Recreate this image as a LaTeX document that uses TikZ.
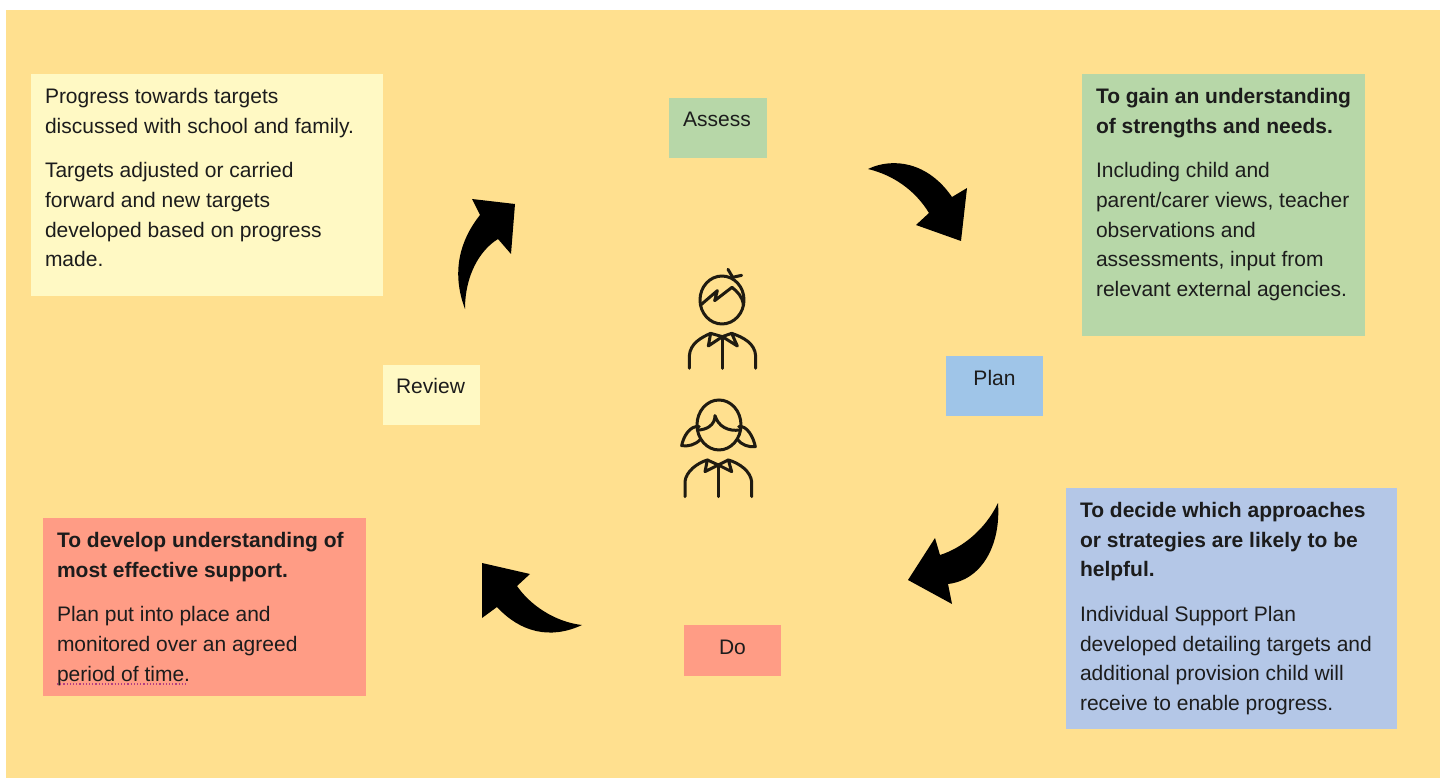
\documentclass[tikz,border=0pt]{standalone}
\usepackage{fontspec}
\setmainfont{Liberation Sans}
\definecolor{bgc}{HTML}{FFE08F}
\definecolor{yel}{HTML}{FFF9C4}
\definecolor{grn}{HTML}{B7D7A8}
\definecolor{blu}{HTML}{9FC5E8}
\definecolor{lblu}{HTML}{B4C7E7}
\definecolor{red1}{HTML}{FF9C85}
\definecolor{ink}{HTML}{1C1C1C}
\newcommand\panel[3]{\parbox[c][#2pt][t]{#1pt}{\fontsize{21pt}{29.6pt}\selectfont\raggedright#3}}
\newcommand\gap{\\[15pt]}
\tikzset{
  x=1pt,y=-1pt,
  panelbox/.style={anchor=north west,inner xsep=14pt,inner ysep=14.5pt,text=ink,outer sep=0pt},
  tag/.style={anchor=north west,minimum width=#1,inner sep=0pt,outer sep=0pt,text=ink,font=\fontsize{21pt}{24pt}\selectfont},
  curvedarrow/.style={fill=black,draw=none},
  pen/.style={draw=black!88!bgc,line width=3pt,line cap=round,line join=round,fill=none,x=0.3333pt,y=-0.3333pt}
}
\begin{document}
\begin{tikzpicture}
\useasboundingbox (0,0) rectangle (1446,778);
\fill[white] (0,0) rectangle (1446,778);
\fill[bgc] (6,10) rectangle (1440,778);

\node[panelbox,fill=yel] (review text) at (31,74) {\panel{324}{193}{Progress towards targets\\discussed with school and family.\gap Targets adjusted or carried\\forward and new targets\\developed based on progress\\made.}};
\node[panelbox,fill=grn] (assess text) at (1082,74) {\panel{255}{233}{\textbf{To gain an understanding\\of strengths and needs.}\gap Including child and\\parent/carer views, teacher\\observations and\\assessments, input from\\relevant external agencies.}};
\node[panelbox,fill=lblu] (plan text) at (1066,488) {\panel{303}{212}{\textbf{To decide which approaches\\or strategies are likely to be\\helpful.}\gap Individual Support Plan\\developed detailing targets and\\additional provision child will\\receive to enable progress.}};
\node[panelbox,fill=red1] (do text) at (43,518) {\panel{295}{149}{\textbf{To develop understanding of\\most effective support.}\gap Plan put into place and\\monitored over an agreed\\period of time.}};

\node[tag=98pt,fill=grn,minimum height=60pt] (assess) at (669,98) {\hspace{-2pt}\raisebox{18pt}{Assess}};
\node[tag=97pt,fill=blu,minimum height=60pt] (plan) at (946,356) {\raisebox{16pt}{Plan}};
\node[tag=97pt,fill=red1,minimum height=51pt] (do) at (684,625) {\raisebox{6pt}{Do}};
\node[tag=97pt,fill=yel,minimum height=60pt] (review) at (383,365) {\hspace{-2pt}\raisebox{19pt}{Review}};

\coordinate (sq1) at (57,684);
\coordinate (sq2) at (186,684);
\draw[draw=violet!60!red1,line width=1.2pt,dotted] (sq1) -- (sq2);

% curved arrows
\fill[curvedarrow] (868,169) .. controls (893,157) and (928,162) .. (952,197) -- (967,188) -- (961,241) -- (916,225) -- (929,213) .. controls (915,190) and (893,175) .. (868,169) -- cycle;
\fill[curvedarrow] (998,503) .. controls (1001,545) and (982,580) .. (948,584) -- (952,604) -- (908,580) -- (935,538) -- (940,555) .. controls (962,548) and (985,530) .. (998,503) -- cycle;
\fill[curvedarrow] (465,309) .. controls (451,272) and (460,240) .. (480,215) -- (472,199) -- (515,204) -- (511,254) -- (498,239) .. controls (480,250) and (465,275) .. (465,309) -- cycle;
\fill[curvedarrow] (582,625) .. controls (550,640) and (520,632) .. (497,607) -- (482,618) -- (482,563) -- (530,574) -- (517,586) .. controls (530,605) and (555,622) .. (582,625) -- cycle;

% boy
\begin{scope}[shift={(660,250)},pen]
\draw (186,150) ellipse[x radius=22pt,y radius=24pt];
\draw (122,165) -- (172,122) -- (164,152) -- (216,112) .. controls (232,125) and (248,140) .. (250,165);
\draw (204,58) -- (218,82) -- (245,76);
\draw (88,355) -- (88,318) .. controls (90,280) and (125,262) .. (152,250) -- (145,288) -- (187,260) -- (232,288) -- (215,250) .. controls (250,262) and (285,280) .. (287,318) -- (287,355);
\draw (152,250) -- (187,260) -- (215,250);
\draw (187,260) -- (187,355);
\end{scope}
% girl
\begin{scope}[shift={(660,250)},pen]
\draw (177,525) ellipse[x radius=22pt,y radius=25pt];
\draw (113,540) .. controls (140,540) and (165,525) .. (165,497) .. controls (175,530) and (205,545) .. (240,540);
\draw (118,530) .. controls (90,525) and (70,560) .. (65,587) .. controls (85,590) and (105,585) .. (122,568);
\draw (236,530) .. controls (260,525) and (280,560) .. (286,590) .. controls (265,592) and (245,585) .. (232,568);
\draw (75,740) -- (75,695) .. controls (78,665) and (110,640) .. (142,630) -- (135,665) -- (175,645) -- (215,665) -- (205,630) .. controls (240,640) and (272,665) .. (275,695) -- (275,740);
\draw (142,630) -- (175,645) -- (205,630);
\draw (175,645) -- (175,740);
\end{scope}
\end{tikzpicture}
\end{document}
